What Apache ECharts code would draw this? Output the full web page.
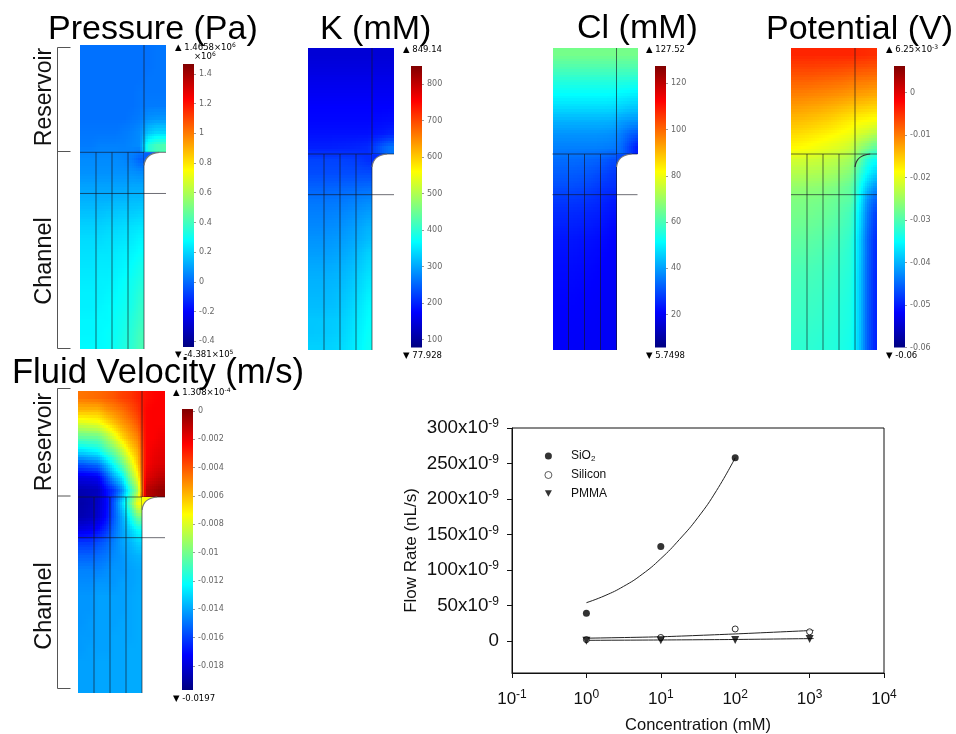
<!DOCTYPE html>
<html><head><meta charset="utf-8">
<script src="https://cdn.jsdelivr.net/npm/echarts@6/dist/echarts.min.js"></script>
<style>html,body{margin:0;padding:0;background:#fff}#c{width:956px;height:734px}</style></head>
<body><div id="c"></div>
<script>
// ---- Values ----
// Fields: rows top to bottom; 8 leading rows are the reservoir, the rest the channel.
const pressureField = [ // x10^6 Pa
[.01,.01,.01,.01,.01,.01,.01,.01,.01,.02,.02],
[.01,.01,.01,.01,.01,.01,.01,.01,.01,.02,.02],
[.01,.01,.01,.01,.01,.01,.01,.01,.02,.02,.02],
[.01,.01,.01,.01,.01,.01,.01,.02,.02,.02,.02],
[.01,.01,.01,.01,.01,.01,.01,.02,.03,.03,.03],
[.01,.01,.01,.01,.01,.01,.02,.03,.07,.08,.08],
[.02,.02,.02,.02,.02,.03,.04,.06,.16,.20,.20],
[.03,.03,.04,.04,.04,.04,.05,.06,.33,.40,.42],
[.06,.06,.06,.06,.06,.05,.03,-.02],
[.07,.07,.07,.07,.07,.07,.07,.06],
[.10,.10,.10,.10,.10,.10,.11,.11],
[.13,.13,.13,.13,.14,.14,.15,.15],
[.16,.16,.16,.17,.17,.18,.18,.19],
[.19,.19,.19,.20,.20,.21,.22,.23],
[.21,.21,.21,.22,.22,.23,.24,.26],
[.22,.22,.23,.23,.24,.25,.26,.28],
[.23,.23,.24,.24,.25,.26,.28,.31],
[.24,.24,.25,.25,.26,.28,.30,.33],
[.25,.25,.25,.26,.27,.29,.31,.35],
[.25,.25,.26,.27,.28,.30,.32,.37],
[.26,.26,.27,.27,.29,.31,.34,.38],
[.26,.26,.27,.28,.29,.32,.35,.40],
[.27,.27,.27,.28,.30,.33,.36,.41]];
const potassiumField = [ // mM
[143,143,143,143,143,143,143,143,143,143,143],
[151,151,151,151,151,151,151,151,151,151,151],
[159,159,159,159,159,159,159,159,159,159,159],
[167,167,167,167,167,167,167,167,167,167,167],
[174,174,174,174,174,174,174,174,174,174,175],
[178,178,178,178,178,178,178,178,180,182,183],
[186,186,186,186,186,186,186,186,190,194,201],
[197,197,197,198,199,200,202,205,225,248,263],
[225,225,225,224,223,221,216,209],
[232,232,232,232,232,232,232,232],
[248,248,248,249,250,251,253,255],
[263,263,263,264,266,270,274,278],
[271,271,272,274,277,282,288,294],
[278,278,280,282,286,292,300,309],
[286,286,288,290,294,300,308,317],
[294,294,295,298,302,309,320,332],
[302,302,303,306,310,317,328,340],
[309,309,310,312,316,324,336,348],
[313,313,314,317,322,330,342,356],
[317,317,318,321,327,336,349,363],
[325,325,326,328,333,342,354,367],
[325,326,327,330,336,346,358,371],
[332,332,333,336,341,350,362,375]];
const chlorideField = [ // mM
[65.4,65.4,65.4,65.4,65.4,65.4,65.4,65.4,65.4,65.4,65.4],
[60.6,60.6,60.6,60.6,60.6,60.6,60.6,60.6,60.6,60.6,60.6],
[55.7,55.7,55.7,55.7,55.7,55.7,55.7,55.7,55.5,55.3,55],
[51.4,51.4,51.4,51.4,51.4,51.4,51.4,51.3,50.5,50,49.6],
[47.2,47.2,47.2,47.2,47.2,47.2,47.2,47,46,45,44.7],
[42.3,42.3,42.3,42.3,42.3,42.3,42.2,42,40,39,38.6],
[38.6,38.6,38.6,38.6,38.6,38.6,38.4,38,36,33,31.3],
[36.2,36.2,36.2,36.2,36.2,36.2,36,35.6,34,29,24],
[33.8,33.8,33.6,33.4,33,32.5,31.5,30],
[32,32,31.8,31.5,31,30,29,27.7],
[30.1,30.1,30,29.6,29,28,27,26.5],
[27.7,27.7,27.5,27.2,26.7,26,25,24],
[25.9,25.9,25.7,25.5,25,24.5,23.6,22.8],
[24.6,24.6,24.5,24.2,23.9,23.3,22.6,21.6],
[23.4,23.4,23.3,23,22.7,22.2,21.7,21],
[22.8,22.8,22.7,22.4,22.1,21.7,21.2,20.6],
[22.2,22.2,22.1,21.9,21.6,21.2,20.8,20.4],
[21.8,21.8,21.7,21.5,21.2,20.9,20.5,20.2],
[21.4,21.4,21.3,21.1,20.9,20.6,20.3,20],
[21.1,21.1,21,20.8,20.6,20.4,20.1,19.9],
[20.8,20.8,20.7,20.6,20.4,20.2,20,19.8],
[20.6,20.6,20.5,20.4,20.2,20.1,19.9,19.8],
[20.4,20.4,20.3,20.2,20.1,20,19.9,19.8]];
const potentialField = [ // mV
[-4.4,-4.4,-4.4,-4.4,-4.4,-4.4,-4.4,-4.4,-4.6,-4.8,-5],
[-6.3,-6.3,-6.3,-6.4,-6.5,-6.6,-6.8,-7,-7.2,-7.4,-7.6],
[-8.3,-8.3,-8.4,-8.6,-8.8,-9,-9.2,-9.6,-9.8,-10,-10.3],
[-10.3,-10.4,-10.6,-10.8,-11,-11.3,-11.6,-12,-12.3,-12.6,-13],
[-12.3,-12.5,-12.8,-13,-13.4,-13.8,-14.3,-14.8,-15.2,-15.6,-16],
[-14.3,-14.5,-14.8,-15.2,-15.6,-16.2,-16.9,-17.5,-18.3,-18.7,-19.2],
[-16.3,-16.6,-17,-17.4,-17.9,-18.4,-19,-19.6,-21.3,-22.2,-23.6],
[-18.3,-18.6,-19,-19.5,-20,-20.6,-21.2,-22.2,-24.9,-26.9,-28.9],
[-21.6,-21.8,-22,-22.3,-22.7,-23.2,-24,-24.9,-28.2,-32.8,-34.8],
[-23.6,-23.7,-23.9,-24.1,-24.5,-25,-26,-26.9,-31.5,-35.5,-38.1],
[-25.5,-25.6,-25.8,-26,-26.5,-27,-28,-28.9,-33.5,-38.8,-42.1],
[-26.9,-27,-27.2,-27.4,-27.8,-28.3,-29,-29.5,-34.8,-42.1,-45.4],
[-27.5,-27.6,-27.8,-28.1,-28.5,-29,-30,-30.9,-36.2,-43.4,-47.4],
[-28.2,-28.3,-28.5,-28.8,-29.2,-29.8,-30.7,-31.5,-36.8,-44.1,-48.1],
[-28.9,-29,-29.2,-29.5,-29.9,-30.5,-31.3,-32.2,-37.5,-44.8,-48.7],
[-29.5,-29.6,-29.8,-30.1,-30.5,-31,-31.8,-32.6,-37.5,-44.8,-48.9],
[-30.2,-30.3,-30.4,-30.7,-31,-31.5,-32.2,-32.8,-37.8,-45,-49],
[-30.6,-30.7,-30.8,-31,-31.4,-31.8,-32.5,-33.1,-38,-45.1,-49.2],
[-30.9,-31,-31.1,-31.3,-31.7,-32.1,-32.7,-33.3,-38,-45.2,-49.2],
[-31.2,-31.3,-31.4,-31.6,-32,-32.4,-33,-33.5,-38.1,-45.3,-49.3],
[-31.5,-31.6,-31.7,-31.9,-32.2,-32.6,-33.1,-33.6,-38.1,-45.4,-49.4],
[-31.8,-31.9,-32,-32.2,-32.5,-32.8,-33.3,-33.8,-38.2,-45.4,-49.4],
[-32.2,-32.2,-32.3,-32.5,-32.7,-33,-33.5,-34,-38.3,-45.5,-49.5]];
const velocityField = [ // mm/s
[-4.6,-4.5,-4.4,-4.2,-4,-3.6,-3.4,-3,-2.6,-2.4,-2.3],
[-6,-6,-6,-5.4,-5,-4.6,-4,-3.4,-2.4,-2.3,-2.3],
[-8.2,-8,-7.8,-7,-6.2,-5.4,-4.8,-4,-2.4,-2.3,-2.3],
[-10.4,-10.3,-10.2,-9.2,-8,-6.6,-5.6,-4.8,-2.4,-2.3,-2.05],
[-12.8,-12.5,-12.2,-11,-10,-8.6,-6.8,-5.6,-2.4,-2.05,-1.85],
[-15.5,-15.2,-14.9,-13.55,-12,-10.4,-8.4,-6.2,-2.3,-1.85,-1.65],
[-17.7,-17.6,-17.4,-15.7,-13.95,-12.6,-9.8,-7.4,-1.85,-1.45,-1.05],
[-18.7,-18.6,-18.5,-17.1,-16.1,-14.5,-11.6,-9,-1.05,-.65,-.25],
[-18.9,-18.7,-18.3,-17.3,-15.5,-13.2,-10.6,-7.4],
[-18.7,-18.5,-18.1,-17.1,-15.5,-13.95,-12.2,-10],
[-17.7,-17.5,-17.1,-16.3,-15.1,-14.1,-13.2,-12.2],
[-16.1,-16.1,-15.7,-15.3,-14.7,-14.1,-13.75,-13.2],
[-15.3,-15.3,-15.1,-14.9,-14.5,-14.3,-13.95,-13.75],
[-14.7,-14.7,-14.7,-14.5,-14.3,-14.3,-14.1,-13.95],
[-14.5,-14.5,-14.3,-14.3,-14.3,-14.1,-14.1,-13.95],
[-14.3,-14.3,-14.1,-14.1,-14.1,-14.1,-14,-13.9],
[-14.3,-14.3,-14.1,-14.1,-14.1,-14.1,-14,-13.9],
[-14.3,-14.2,-14.1,-14.1,-14.1,-14,-14,-13.9],
[-14.2,-14.2,-14.1,-14.1,-14,-14,-14,-13.9],
[-14.2,-14.1,-14.1,-14.1,-14,-14,-13.9,-13.9],
[-14.1,-14.1,-14,-14,-14,-14,-13.9,-13.9],
[-14.1,-14.1,-14,-14,-14,-14,-13.9,-13.9],
[-14.1,-14.1,-14,-14,-14,-14,-13.9,-13.9]];

const pressureTicks = [-.4,-.2,0,.2,.4,.6,.8,1,1.2,1.4];
const potassiumTicks = [100,200,300,400,500,600,700,800];
const chlorideTicks = [20,40,60,80,100,120];
const potentialTicks = [-.06,-.05,-.04,-.03,-.02,-.01,0];
const velocityTicks = [-.018,-.016,-.014,-.012,-.01,-.008,-.006,-.004,-.002,0];

const concentration = [1,10,100,1000];
const sio2Flow = [39,133,258];
const siliconFlow = [2,5,17,13];
const pmmaFlow = [.5,1,1.5,3];
const sio2FitX = [1,1.78,3.16,5.62,10,17.8,31.6,56.2,100];
const sio2FitY = [54,64,77,94,116,143,174,212,258];
const fitX = [1,10,100,1130];
const siliconFitY = [4,6,10,15];
const pmmaFitY = [1,1.5,2.2,3.5];
const flowTicks = [0,50,100,150,200,250,300];

// ---- Scale and geometry ----
const jetStops = [[0,'#000080'],[.125,'#0000ff'],[.375,'#00ffff'],[.625,'#ffff00'],[.875,'#ff0000'],[1,'#800000']];
const jetRgb = jetStops.map(s => [s[0], parseInt(s[1].slice(1,3),16), parseInt(s[1].slice(3,5),16), parseInt(s[1].slice(5,7),16)]);
function jet(t){
  t = Math.max(0, Math.min(1, t));
  for (let i = 1; i < jetRgb.length; i++) {
    if (t <= jetRgb[i][0]) {
      const a = jetRgb[i-1], b = jetRgb[i], f = (t-a[0])/(b[0]-a[0]);
      return 'rgb(' + [1,2,3].map(k => Math.round(a[k]+(b[k]-a[k])*f)).join(',') + ')';
    }
  }
  return jetStops[jetStops.length-1][1];
}
const COL_PX = 8;
const panels = [
 {field:pressureField, unit:1, barMin:-.4381, barMax:1.4658, ticks:pressureTicks, box:[80,45,86,304], join:107.3, bar:[183,64,11,283], notch:true},
 {field:potassiumField, unit:1, barMin:77.928, barMax:849.14, ticks:potassiumTicks, box:[308,48,86,302], join:106, bar:[411,66,11,281.5], notch:true},
 {field:chlorideField, unit:1, barMin:5.7498, barMax:127.52, ticks:chlorideTicks, box:[552.5,48,85,302], join:106, bar:[655,66,11,281.5], notch:true},
 {field:potentialField, unit:1e-3, barMin:-.06, barMax:.00625, ticks:potentialTicks, box:[791,48,86,302], join:106, bar:[894,66,11,281.5], notch:false},
 {field:velocityField, unit:1e-3, barMin:-.0197, barMax:.0001308, ticks:velocityTicks, box:[78,391,87,302], join:106, bar:[182,409,11,281], notch:true}
];
const meshSegments = [[2,8,2,30],[4,8,4,30],[6,8,6,30],[8,0,8,30],[0,8,30,8],[0,11.07,30,11.07]];

function sampleField(field, x, y){
  const nR = field.length, cl = (v,a,b) => Math.max(a, Math.min(b, v));
  const rowNow = field[cl(Math.floor(y),0,nR-1)];
  const maxC = rowNow.length-1;
  const cf = x-.5, rf = y-.5;
  const c0 = cl(Math.floor(cf),0,maxC), c1 = cl(c0+1,0,maxC);
  const r0 = cl(Math.floor(rf),0,nR-1), r1 = cl(r0+1,0,nR-1);
  const tx = cl(cf-c0,0,1), ty = cl(rf-r0,0,1);
  const val = (r,c,alt) => c < field[r].length ? field[r][c] : field[alt][c];
  const a = val(r0,c0,r1)*(1-tx)+val(r0,c1,r1)*tx;
  const b = val(r1,c0,r0)*(1-tx)+val(r1,c1,r0)*tx;
  return a*(1-ty)+b*ty;
}

const grids=[], xAxes=[], yAxes=[], series=[];
function addGrid(box){ grids.push({left:box[0],top:box[1],width:box[2],height:box[3],show:false,containLabel:false,outerBoundsMode:'none'}); return grids.length-1; }

panels.forEach(p => {
  const xMax = p.box[2]/COL_PX, yMax = p.box[3]/(p.join/8);
  const g = addGrid(p.box);
  xAxes.push({gridIndex:g,type:'value',min:0,max:xMax,show:false});
  yAxes.push({gridIndex:g,type:'value',min:0,max:yMax,inverse:true,show:false});
  const cells=[];
  p.field.forEach((row,r)=>row.forEach((v,c)=>{ if (r<yMax && c<xMax) cells.push([c,r,v]); }));
  const SX=4, SY=5;
  series.push({type:'custom',xAxisIndex:g,yAxisIndex:g,silent:true,clip:false,z:2,progressive:0,
    encode:{x:0,y:1},data:cells,
    renderItem:(params,api)=>{
      const c=api.value(0), r=api.value(1), children=[];
      for(let i=0;i<SX;i++)for(let j=0;j<SY;j++){
        const x0=c+i/SX, x1=Math.min(xMax,c+(i+1)/SX), y0=r+j/SY, y1=Math.min(yMax,r+(j+1)/SY);
        if(x0>=xMax||y0>=yMax) continue;
        const a=api.coord([x0,y0]), b=api.coord([x1,y1]);
        const L=Math.round(a[0]),T=Math.round(a[1]),W=Math.round(b[0])-L,H=Math.round(b[1])-T;
        if(W<=0||H<=0) continue;
        const v=sampleField(p.field,(x0+x1)/2,(y0+y1)/2)*p.unit;
        children.push({type:'rect',shape:{x:L,y:T,width:W,height:H},style:{fill:jet((v-p.barMin)/(p.barMax-p.barMin))}});
      }
      return {type:'group',children};
    }});
  // mesh lines
  series.push({type:'custom',xAxisIndex:g,yAxisIndex:g,silent:true,clip:false,z:4,encode:{x:[0,2],y:[1,3]},data:meshSegments,
    renderItem:(params,api)=>{
      const a=api.coord([Math.min(api.value(0),xMax),Math.min(api.value(1),yMax)]);
      const b=api.coord([Math.min(api.value(2),xMax),Math.min(api.value(3),yMax)]);
      return {type:'line',shape:{x1:a[0],y1:a[1],x2:b[0],y2:b[1]},style:{stroke:'rgba(20,20,30,0.62)',lineWidth:1}};
    }});
  // fillet at the reservoir/channel corner
  series.push({type:'custom',xAxisIndex:g,yAxisIndex:g,silent:true,clip:false,z:5,encode:{x:0,y:1},data:[[8,8]],
    renderItem:(params,api)=>{
      const cx=api.value(0), cy=api.value(1);
      const s=api.coord([cx,cy+.98]), e=api.coord([cx+1.9,cy]), k=api.coord([cx+.18,cy+.08]), o=api.coord([cx,cy]);
      const kids=[];
      if(p.notch){
        const pts=[o];
        for(let i=0;i<=8;i++){const t=i/8,u=1-t;pts.push([u*u*s[0]+2*u*t*k[0]+t*t*e[0],u*u*s[1]+2*u*t*k[1]+t*t*e[1]]);}
        const v=p.field[8][7]*p.unit;
        kids.push({type:'polygon',shape:{points:pts},style:{fill:jet((v-p.barMin)/(p.barMax-p.barMin))}});
      }
      kids.push({type:'bezierCurve',shape:{x1:s[0],y1:s[1],x2:e[0],y2:e[1],cpx1:k[0],cpy1:k[1]},
        style:{fill:null,stroke:p.notch?'#777':'#333',lineWidth:1.2}});
      return {type:'group',children:kids};
    }});
  // colour bar
  const gb = addGrid(p.bar);
  xAxes.push({gridIndex:gb,type:'value',min:0,max:1,show:false});
  yAxes.push({gridIndex:gb,type:'value',min:p.barMin,max:p.barMax,position:'right',z:10,
    axisLine:{show:false,onZero:false},splitLine:{show:false},
    axisTick:{show:true,inside:false,length:2,customValues:p.ticks,lineStyle:{color:'#999',width:1}},
    axisLabel:{show:true,inside:false,margin:5,customValues:p.ticks,formatter:v=>String(v),
      fontFamily:'DejaVu Sans',fontSize:8,color:'#666',hideOverlap:false,showMinLabel:true,showMaxLabel:true}});
  series.push({type:'custom',xAxisIndex:gb,yAxisIndex:gb,silent:true,clip:false,z:2,encode:{x:0,y:[1,2]},
    data:[[0,p.barMin,p.barMax]],
    renderItem:(params,api)=>{
      const a=api.coord([0,api.value(2)]), b=api.coord([1,api.value(1)]);
      return {type:'rect',shape:{x:a[0],y:a[1],width:b[0]-a[0],height:b[1]-a[1]},
        style:{fill:{type:'linear',x:0,y:1,x2:0,y2:0,colorStops:jetStops.map(s=>({offset:s[0],color:s[1]}))}}};
    }});
});

// ---- Flow-rate plot ----
const gp = addGrid([512,428,372,245]);
grids[gp].show=true; grids[gp].borderColor='#111'; grids[gp].borderWidth=1;
const flowRich = {a:{fontFamily:'Liberation Sans',fontSize:18.8,color:'#111'},s:{fontFamily:'Liberation Sans',fontSize:12,color:'#111',padding:[0,0,8,0]}};
xAxes.push({gridIndex:gp,type:'log',logBase:10,min:.1,max:10000,
  name:'Concentration (mM)',nameLocation:'middle',nameGap:44,
  nameTextStyle:{fontFamily:'Liberation Sans',fontSize:16.5,color:'#111'},
  axisLine:{onZero:false,lineStyle:{color:'#111'}},axisTick:{length:5,lineStyle:{color:'#111'}},minorTick:{show:false},
  splitLine:{show:false},minorSplitLine:{show:false},
  axisLabel:{margin:16,showMinLabel:true,showMaxLabel:true,formatter:v=>'{a|10}{s|'+Math.round(Math.log10(v))+'}',
    rich:{a:{fontFamily:'Liberation Sans',fontSize:17,color:'#111'},s:{fontFamily:'Liberation Sans',fontSize:12,color:'#111',padding:[0,0,8,0]}}}});
yAxes.push({gridIndex:gp,type:'value',min:-45,max:300,
  name:'Flow Rate (nL/s)',nameLocation:'middle',nameGap:92,
  nameTextStyle:{fontFamily:'Liberation Sans',fontSize:17,color:'#111'},
  axisLine:{onZero:false,lineStyle:{color:'#111'}},splitLine:{show:false},
  axisTick:{length:5,customValues:flowTicks,lineStyle:{color:'#111'}},
  axisLabel:{margin:13,customValues:flowTicks,rich:flowRich,
    formatter:v=>v===0?'{a|0}':'{a|'+v+'x10}{s|-9}'}});
const pair=(xs,ys)=>ys.map((y,i)=>[xs[i],y]);
const lineBase={type:'line',xAxisIndex:gp,yAxisIndex:gp,showSymbol:false,silent:true,z:5,lineStyle:{color:'#222',width:1}};
series.push(Object.assign({},lineBase,{name:'SiO2 fit',smooth:.5,data:pair(sio2FitX,sio2FitY)}));
series.push(Object.assign({},lineBase,{name:'Silicon fit',smooth:.2,data:pair(fitX,siliconFitY)}));
series.push(Object.assign({},lineBase,{name:'PMMA fit',smooth:.2,data:pair(fitX,pmmaFitY)}));
series.push({name:'SiO2',type:'scatter',xAxisIndex:gp,yAxisIndex:gp,symbol:'circle',symbolSize:7,z:6,itemStyle:{color:'#000'},data:pair(concentration,sio2Flow)});
series.push({name:'Silicon',type:'scatter',xAxisIndex:gp,yAxisIndex:gp,symbol:'circle',symbolSize:6,z:6,itemStyle:{color:'#fff',borderColor:'#000',borderWidth:1},data:pair(concentration,siliconFlow)});
series.push({name:'PMMA',type:'scatter',xAxisIndex:gp,yAxisIndex:gp,symbol:'path://M0,0L10,0L5,9Z',symbolSize:8,z:7,itemStyle:{color:'#000'},data:pair(concentration,pmmaFlow)});

// ---- Text and brackets ----
const titles=[
 {text:'Pressure (Pa)',left:48,top:13,size:34},
 {text:'K (mM)',left:320,top:13,size:34},
 {text:'Cl (mM)',left:577,top:12,size:34},
 {text:'Potential (V)',left:766,top:13,size:34},
 {text:'Fluid Velocity (m/s)',left:12,top:356,size:34.6}
].map(t=>({text:t.text,left:t.left,top:t.top,padding:0,textStyle:{fontFamily:'Liberation Sans',fontWeight:'normal',fontSize:t.size,color:'#000'}}));
const supRich={s:{fontFamily:'DejaVu Sans',fontSize:6,color:'#666',padding:[0,0,5,0]},n:{fontFamily:'DejaVu Sans',fontSize:8.5,color:'#666'},m:{fontFamily:'DejaVu Sans',fontSize:8.5,color:'#222'}};
const small=(x,y,text)=>({type:'text',x,y,z:20,style:{text,rich:supRich,align:'left',verticalAlign:'middle'}});
const side=(x,y,text,size)=>({type:'text',x,y,z:20,rotation:Math.PI/2,style:{text,fontFamily:'Liberation Sans',fontSize:size,fill:'#111',align:'center',verticalAlign:'middle'}});
const bracket=(x,x2,y0,y1,y2)=>({type:'polyline',z:20,shape:{points:[[x2,y0],[x,y0],[x,y2],[x2,y2]]},style:{stroke:'#555',fill:null,lineWidth:1}});
const tick=(x,x2,y)=>({type:'line',z:20,shape:{x1:x,y1:y,x2,y2:y},style:{stroke:'#555',lineWidth:1}});
const graphicEls=[
 small(175,48,'{m|▲}{n| 1.4658×10}{s|6}'), small(194,57,'{n|×10}{s|6}'), small(175,355,'{m|▼}{n| -4.381×10}{s|5}'),
 small(403,50,'{m|▲}{n| 849.14}'), small(403,356,'{m|▼}{n| 77.928}'),
 small(646,50,'{m|▲}{n| 127.52}'), small(646,356,'{m|▼}{n| 5.7498}'),
 small(886,50,'{m|▲}{n| 6.25×10}{s|-3}'), small(886,356,'{m|▼}{n| -0.06}'),
 small(173,393,'{m|▲}{n| 1.308×10}{s|-4}'), small(173,699,'{m|▼}{n| -0.0197}'),
 side(45,97,'Reservoir',23), side(45,261,'Channel',23.5), side(45,442,'Reservoir',23), side(45,606,'Channel',23.5),
 bracket(57.5,70.5,47.5,151.5,348.5), tick(57.5,70.5,151.5),
 bracket(57.5,70.5,388.5,496,688.5), tick(57.5,70.5,496)
];

const chart=echarts.init(document.getElementById('c'),null,{renderer:'canvas'});
chart.setOption({
  animation:false,backgroundColor:'#fff',
  title:titles,grid:grids,xAxis:xAxes,yAxis:yAxes,series,graphic:graphicEls,
  legend:{data:['SiO2',{name:'Silicon',itemStyle:{borderWidth:.8}},'PMMA'],orient:'vertical',left:544.5,top:450,itemWidth:7,itemHeight:7,itemGap:6.5,padding:0,
    formatter:n=>n==='SiO2'?'{t|SiO}{u|2}':'{t|'+n+'}',
    textStyle:{rich:{t:{fontFamily:'Liberation Sans',fontSize:12,color:'#111',padding:[0,0,0,14]},u:{fontFamily:'Liberation Sans',fontSize:8,color:'#111',padding:[5,0,0,0]}}}}
});
</script></body></html>
